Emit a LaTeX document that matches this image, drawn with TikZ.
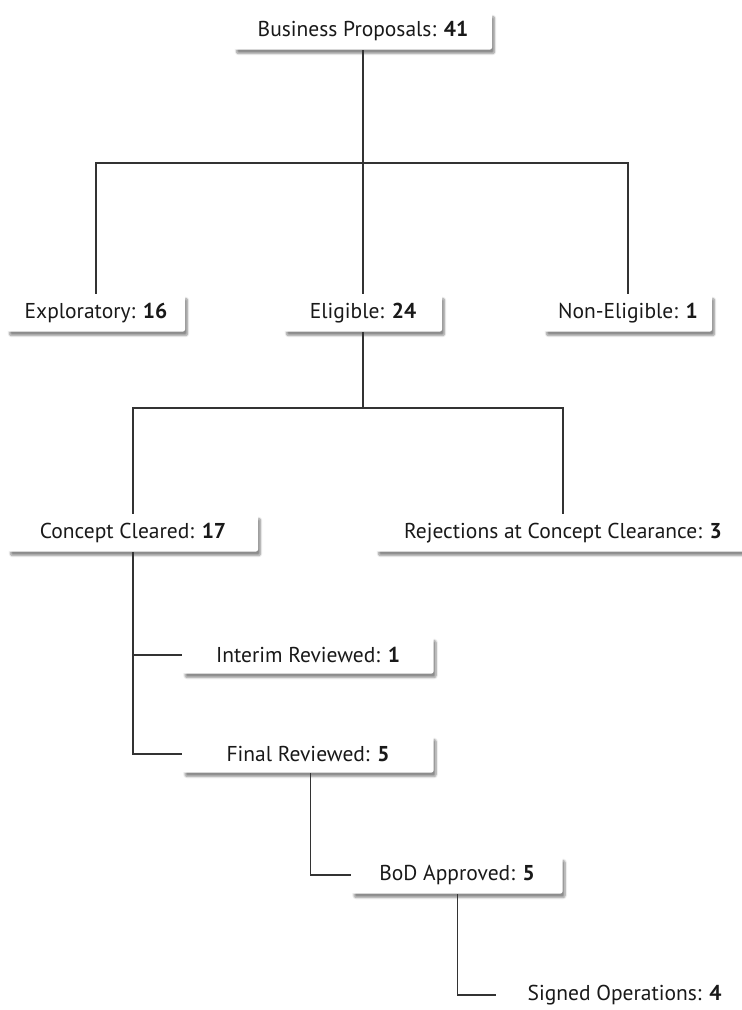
\documentclass[tikz,border=0pt]{standalone}
\usepackage{fontspec}
\setmainfont{PT Sans}
\usepackage{tikz}
\usetikzlibrary{positioning,calc,shadows.blur}

\begin{document}
\begin{tikzpicture}[x=1pt,y=-1pt,
  thick,line width=1.1pt,
  main node/.style={rectangle,rounded corners=2pt,fill=white,minimum height=37pt,inner sep=0pt,
    font=\fontsize{21.5}{25}\selectfont,text=black!90,
    blur shadow={shadow xshift=2.5pt,shadow yshift=-4pt,shadow blur steps=8,shadow opacity=45}},
  link/.style={-,draw=black!80,line width=1.1pt}]
  \useasboundingbox (0,0) rectangle (742,1010);

  \node[main node,minimum width=258pt] (bp) at (363,31) {Business Proposals: \textbf{41}};
  \node[main node,minimum width=178pt] (expl) at (96,313) {Exploratory: \textbf{16}};
  \node[main node,minimum width=158pt] (elig) at (363,313) {Eligible: \textbf{24}};
  \node[main node,minimum width=168pt] (nonelig) at (628,313) {Non-Eligible: \textbf{1}};
  \node[main node,minimum width=250pt] (cc) at (133,533) {Concept Cleared: \textbf{17}};
  \node[main node,minimum width=374pt] (rej) at (563,533) {Rejections at Concept Clearance: \textbf{3}};
  \node[main node,minimum width=251pt,anchor=west] (interim) at (182,655) {Interim Reviewed: \textbf{1}};
  \node[main node,minimum width=251pt,anchor=west] (final) at (182,754) {Final Reviewed: \textbf{5}};
  \node[main node,minimum width=211pt,anchor=west] (bod) at (351,875) {BoD Approved: \textbf{5}};
  \node[main node,minimum width=256pt,anchor=west] (signed) at (496,995) {Signed Operations: \textbf{4}};

  \coordinate (j1) at (363,163);
  \coordinate (j2) at (363,408);

  \begin{scope}[on background layer/.try]
  \draw[link] (bp.south) -- (elig.north);
  \draw[link] (expl.north) |- (j1) -| (nonelig.north);
  \draw[link] (elig.south) -- (j2);
  \draw[link] (cc.north) |- (j2) -| (rej.north);
  \draw[link] (cc.south) |- (final.west);
  \draw[link] (cc.south |- interim.west) -- (interim.west);
  \draw[link] ([xshift=2pt] final.south) |- (bod.west);
  \draw[link] (bod.south) |- (signed.west);
  \end{scope}
\end{tikzpicture}
\end{document}
